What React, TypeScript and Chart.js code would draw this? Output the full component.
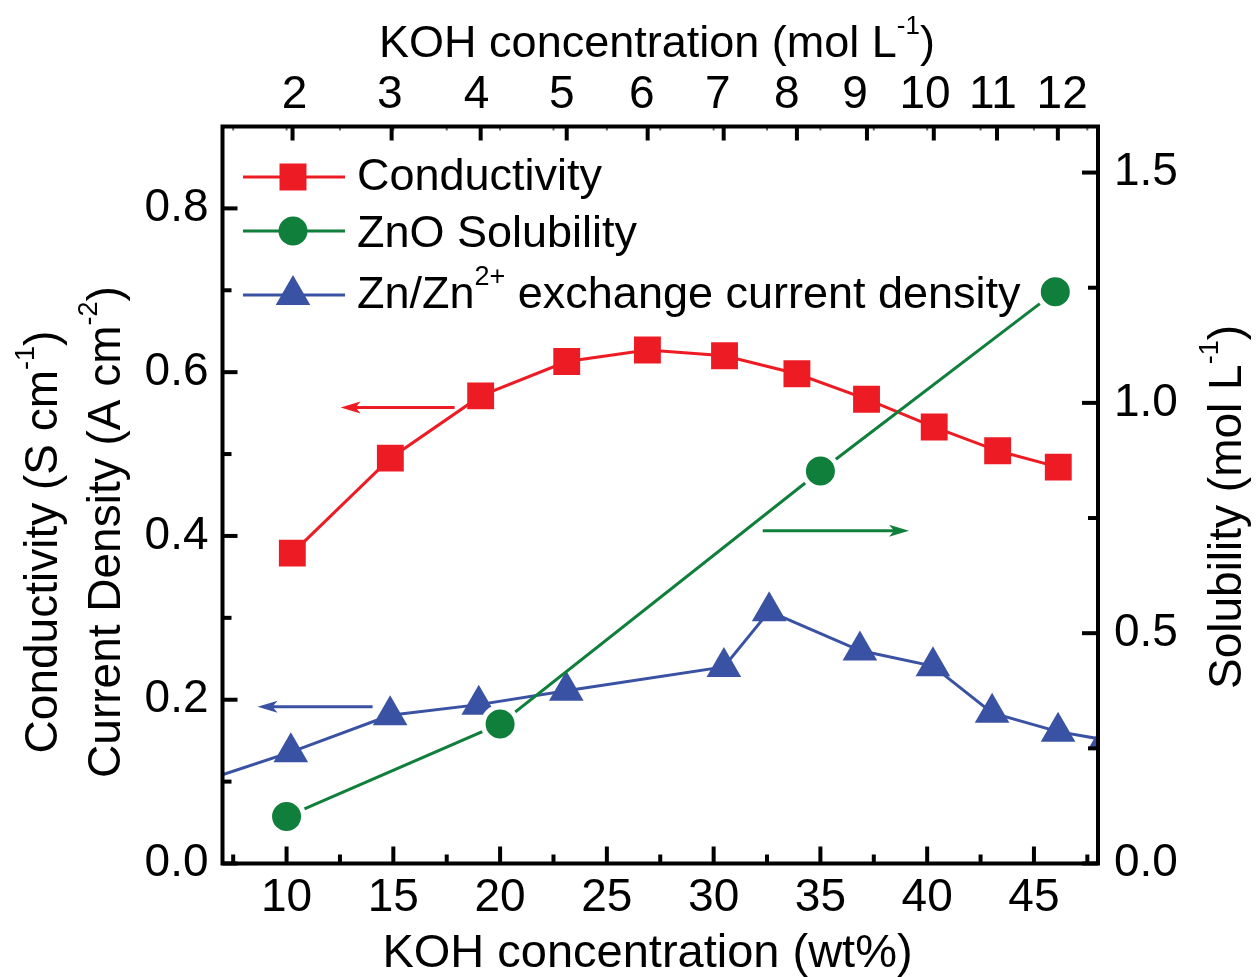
import React, { useEffect, useRef } from 'react';
import { Chart, registerables } from 'chart.js';

Chart.register(...registerables);

// ---------- data ----------
const condWt = [10.27, 14.86, 19.09, 23.12, 26.9, 30.51, 33.9, 37.16, 40.33, 43.3, 46.14];
const condVal = [0.379, 0.495, 0.571, 0.613, 0.627, 0.62, 0.598, 0.567, 0.533, 0.504, 0.484];

const solWt = [10, 20, 35, 46];
const solVal = [0.102, 0.303, 0.852, 1.241];

const jWt = [5.08, 10.2, 14.85, 19.0, 23.1, 30.48, 32.6, 36.85, 40.27, 43.04, 46.13, 48.33];
const jVal = [0.092, 0.136, 0.181, 0.194, 0.211, 0.24, 0.308, 0.26, 0.241, 0.184, 0.161, 0.151];

const bottomTicks = [10, 15, 20, 25, 30, 35, 40, 45];
const bottomMinor = [7.5, 12.5, 17.5, 22.5, 27.5, 32.5, 37.5, 42.5, 47.5];
const leftTicks = [0, 0.2, 0.4, 0.6, 0.8];
const leftMinor = [0.1, 0.3, 0.5, 0.7];
const rightTicks = [0, 0.5, 1.0, 1.5];
const rightMinor = [0.25, 0.75, 1.25];
const molLabels = ['2', '3', '4', '5', '6', '7', '8', '9', '10', '11', '12'];
const molLabelWt = [10.37, 14.83, 18.9, 22.89, 26.64, 30.2, 33.43, 36.62, 39.9, 43.08, 46.32];
const molTickWt = [10.28, 14.92, 19.09, 23.12, 26.91, 30.47, 33.9, 37.18, 40.31, 43.27, 46.12];
const topMinor = [7.5, 10, 12.5, 15, 17.5, 20, 22.5, 25, 27.5, 30, 32.5, 35, 37.5, 40, 42.5, 45, 47.5];

// arrows: [fromX, toX (tip), y, axis]
const arrowFrom = [17.87, 14.03, 32.3];
const arrowTo = [12.53, 8.64, 39.15];
const arrowY = [0.557, 0.1915, 0.7225];
const arrowAxis = ['y', 'y', 'y2'];

const RED = '#ED1C24';
const GREEN = '#0F7F3B';
const BLUE = '#3A52A3';
const FONT = '"Liberation Sans", Arial, sans-serif';

type Part = { t: string; sup?: boolean };

function richWidth(ctx: CanvasRenderingContext2D, parts: Part[], size: number, supSize: number) {
  let w = 0;
  for (const p of parts) {
    ctx.font = `${p.sup ? supSize : size}px ${FONT}`;
    w += ctx.measureText(p.t).width;
  }
  return w;
}

function drawRich(
  ctx: CanvasRenderingContext2D,
  parts: Part[],
  x: number,
  y: number,
  size: number,
  align: 'left' | 'center',
  supSize = Math.round(size * 0.62),
  raise = size * 0.5
) {
  const total = richWidth(ctx, parts, size, supSize);
  let cx = align === 'center' ? x - total / 2 : x;
  ctx.textAlign = 'left';
  ctx.textBaseline = 'alphabetic';
  for (const p of parts) {
    ctx.font = `${p.sup ? supSize : size}px ${FONT}`;
    ctx.fillText(p.t, cx, p.sup ? y - raise : y);
    cx += ctx.measureText(p.t).width;
  }
}

const overlay = {
  id: 'overlay',
  afterDraw(chart: any) {
    const ctx: CanvasRenderingContext2D = chart.ctx;
    const { left, right, top, bottom } = chart.chartArea;
    const sx = chart.scales.x;
    const sy = chart.scales.y;
    const sy2 = chart.scales.y2;
    ctx.save();

    const line = (x1: number, y1: number, x2: number, y2: number) => {
      ctx.beginPath();
      ctx.moveTo(x1, y1);
      ctx.lineTo(x2, y2);
      ctx.stroke();
    };

    // faint top minor ticks
    ctx.strokeStyle = '#666';
    ctx.lineWidth = 2;
    topMinor.forEach((v) => {
      const px = sx.getPixelForValue(v);
      line(px, top, px, top + 4);
    });

    ctx.strokeStyle = '#000';
    ctx.lineWidth = 4;
    ctx.lineCap = 'butt';
    bottomTicks.forEach((v) => {
      const px = sx.getPixelForValue(v);
      line(px, bottom, px, bottom - 17);
    });
    bottomMinor.forEach((v) => {
      const px = sx.getPixelForValue(v);
      line(px, bottom, px, bottom - 9);
    });
    molTickWt.forEach((v) => {
      const px = sx.getPixelForValue(v);
      line(px, top, px, top + 14);
    });
    leftTicks.forEach((v) => {
      const py = sy.getPixelForValue(v);
      line(left, py, left + 15, py);
    });
    leftMinor.forEach((v) => {
      const py = sy.getPixelForValue(v);
      line(left, py, left + 9, py);
    });
    rightTicks.forEach((v) => {
      const py = sy2.getPixelForValue(v);
      line(right, py, right - 16, py);
    });
    rightMinor.forEach((v) => {
      const py = sy2.getPixelForValue(v);
      line(right, py, right - 10, py);
    });

    // frame
    ctx.strokeRect(left, top, right - left, bottom - top);

    // arrows
    arrowFrom.forEach((from, i) => {
      const color = i === 0 ? RED : i === 1 ? BLUE : GREEN;
      const scaleY = arrowAxis[i] === 'y' ? sy : sy2;
      const x1 = sx.getPixelForValue(from);
      const x2 = sx.getPixelForValue(arrowTo[i]);
      const y = scaleY.getPixelForValue(arrowY[i]);
      const dir = Math.sign(x2 - x1);
      ctx.strokeStyle = color;
      ctx.fillStyle = color;
      ctx.lineWidth = 3;
      line(x1, y, x2 - dir * 14, y);
      ctx.beginPath();
      ctx.moveTo(x2, y);
      ctx.lineTo(x2 - dir * 20, y - 6);
      ctx.lineTo(x2 - dir * 15, y);
      ctx.lineTo(x2 - dir * 20, y + 6);
      ctx.closePath();
      ctx.fill();
    });

    // titles
    ctx.fillStyle = '#000';
    const TS = 46;
    drawRich(ctx, [{ t: 'KOH concentration (mol L' }, { t: '-1', sup: true }, { t: ')' }], 657, 57, 45, 'center', 26, 23);
    drawRich(ctx, [{ t: 'KOH concentration (wt%)' }], 647.5, 967, 47, 'center');

    ctx.save();
    ctx.translate(57, 542);
    ctx.rotate(-Math.PI / 2);
    drawRich(ctx, [{ t: 'Conductivity (S cm' }, { t: '-1', sup: true }, { t: ')' }], 0, 0, TS, 'center', 27, 23);
    ctx.restore();

    ctx.save();
    ctx.translate(120, 532);
    ctx.rotate(-Math.PI / 2);
    drawRich(ctx, [{ t: 'Current Density (A cm' }, { t: '-2', sup: true }, { t: ')' }], 0, 0, TS, 'center', 27, 23);
    ctx.restore();

    ctx.save();
    ctx.translate(1241, 507);
    ctx.rotate(-Math.PI / 2);
    drawRich(ctx, [{ t: 'Solubility (mol L' }, { t: '-1', sup: true }, { t: ')' }], 0, 0, TS, 'center', 27, 23);
    ctx.restore();

    // legend
    const LS = 45;
    const rows = [
      { y: 177, base: 190, color: RED, shape: 'rect', parts: [{ t: 'Conductivity' }] as Part[] },
      { y: 231, base: 247, color: GREEN, shape: 'circle', parts: [{ t: 'ZnO Solubility' }] as Part[] },
      {
        y: 295,
        base: 308,
        color: BLUE,
        shape: 'tri',
        parts: [{ t: 'Zn/Zn' }, { t: '2+', sup: true }, { t: ' exchange current density' }] as Part[],
      },
    ];
    rows.forEach((r) => {
      ctx.strokeStyle = r.color;
      ctx.fillStyle = r.color;
      ctx.lineWidth = 3;
      line(243, r.y, 345, r.y);
      const mx = 293;
      ctx.beginPath();
      if (r.shape === 'rect') {
        ctx.rect(mx - 13.5, r.y - 13.5, 27, 27);
      } else if (r.shape === 'circle') {
        ctx.arc(mx, r.y, 14.5, 0, Math.PI * 2);
      } else {
        const R = 20;
        ctx.moveTo(mx, r.y - R);
        ctx.lineTo(mx + R * Math.sin((2 * Math.PI) / 3), r.y - R * Math.cos((2 * Math.PI) / 3));
        ctx.lineTo(mx - R * Math.sin((2 * Math.PI) / 3), r.y - R * Math.cos((2 * Math.PI) / 3));
        ctx.closePath();
      }
      ctx.fill();
      ctx.fillStyle = '#000';
      drawRich(ctx, r.parts, 357, r.base, LS, 'left', 27, 23);
    });

    ctx.restore();
  },
};

export default function App() {
  const ref = useRef<HTMLCanvasElement>(null);

  useEffect(() => {
    const canvas = ref.current;
    if (!canvas) return;
    const tickFont = { family: FONT, size: 46 };
    const chart = new Chart(canvas, {
      type: 'line',
      data: {
        datasets: [
          {
            label: 'ZnO Solubility',
            data: solWt.map((x, i) => ({ x, y: solVal[i] })),
            xAxisID: 'x',
            yAxisID: 'y2',
            borderColor: GREEN,
            backgroundColor: GREEN,
            borderWidth: 3,
            pointStyle: 'circle',
            pointRadius: 17,
            pointBackgroundColor: GREEN,
            pointBorderColor: '#ffffff',
            pointBorderWidth: 5,
            tension: 0,
            clip: 0,
          },
          {
            label: 'Conductivity',
            data: condWt.map((x, i) => ({ x, y: condVal[i] })),
            xAxisID: 'x',
            yAxisID: 'y',
            borderColor: RED,
            backgroundColor: RED,
            borderWidth: 3,
            pointStyle: 'rect',
            pointRadius: 19,
            pointBackgroundColor: RED,
            pointBorderWidth: 0,
            tension: 0,
            clip: 0,
          },
          {
            label: 'Zn/Zn2+ exchange current density',
            data: jWt.map((x, i) => ({ x, y: jVal[i] })),
            xAxisID: 'x',
            yAxisID: 'y',
            borderColor: BLUE,
            backgroundColor: BLUE,
            borderWidth: 3,
            pointStyle: 'triangle',
            pointRadius: 20,
            pointBackgroundColor: BLUE,
            pointBorderWidth: 0,
            tension: 0,
            clip: 0,
          },
        ],
      },
      options: {
        responsive: false,
        animation: false,
        events: [],
        layout: { padding: 0 },
        plugins: { legend: { display: false }, tooltip: { enabled: false }, title: { display: false } },
        scales: {
          x: {
            type: 'linear',
            position: 'bottom',
            min: 7,
            max: 48,
            afterBuildTicks: (s: any) => {
              s.ticks = bottomTicks.map((v) => ({ value: v }));
            },
            afterFit: (s: any) => {
              s.height = 113.5;
            },
            grid: { display: false, drawTicks: false },
            border: { display: false },
            ticks: {
              font: tickFont,
              color: '#000',
              padding: 7,
              autoSkip: false,
              maxRotation: 0,
              minRotation: 0,
              callback: (v: any) => String(v),
            },
          },
          x2: {
            type: 'linear',
            position: 'top',
            min: 7,
            max: 48,
            afterBuildTicks: (s: any) => {
              s.ticks = molLabelWt.map((v) => ({ value: v }));
            },
            afterFit: (s: any) => {
              s.height = 126.5;
            },
            grid: { display: false, drawTicks: false },
            border: { display: false },
            ticks: {
              font: tickFont,
              color: '#000',
              padding: 4,
              autoSkip: false,
              maxRotation: 0,
              minRotation: 0,
              callback: (_v: any, i: number) => molLabels[i],
            },
          },
          y: {
            type: 'linear',
            position: 'left',
            min: 0,
            max: 0.9,
            afterBuildTicks: (s: any) => {
              s.ticks = leftTicks.map((v) => ({ value: v }));
            },
            afterFit: (s: any) => {
              s.width = 222.5;
            },
            grid: { display: false, drawTicks: false },
            border: { display: false },
            ticks: {
              font: tickFont,
              color: '#000',
              padding: 14,
              autoSkip: false,
              callback: (v: any) => Number(v).toFixed(1),
            },
          },
          y2: {
            type: 'linear',
            position: 'right',
            min: 0,
            max: 1.6,
            afterBuildTicks: (s: any) => {
              s.ticks = rightTicks.map((v) => ({ value: v }));
            },
            afterFit: (s: any) => {
              s.width = 159;
            },
            grid: { display: false, drawTicks: false },
            border: { display: false },
            ticks: {
              font: tickFont,
              color: '#000',
              padding: 16,
              autoSkip: false,
              callback: (v: any) => Number(v).toFixed(1),
            },
          },
        },
      } as any,
      plugins: [overlay],
    });
    return () => chart.destroy();
  }, []);

  return (
    <div style={{ position: 'absolute', left: 0, top: 0, width: 1257, height: 977, background: '#ffffff' }}>
      <canvas ref={ref} width={1257} height={977} style={{ display: 'block', width: 1257, height: 977 }} />
    </div>
  );
}
